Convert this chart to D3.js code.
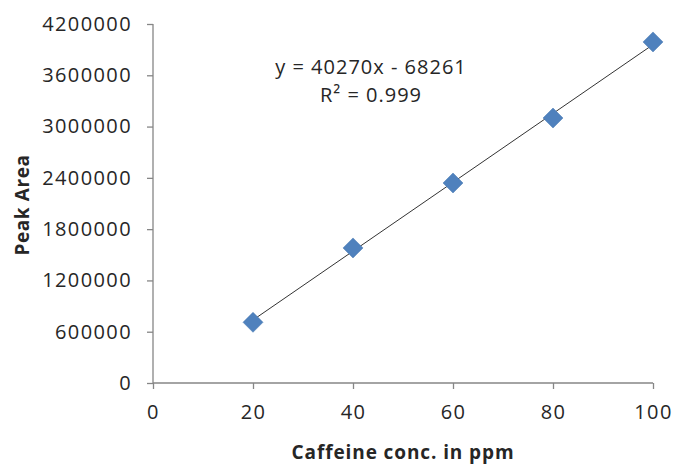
<!DOCTYPE html>
<html>
<head>
<meta charset="utf-8">
<script src="https://cdn.jsdelivr.net/npm/d3@7"></script>
<style>
  body { margin: 0; background: #fff; }
  svg text { font-family: "Open Sans", "Noto Sans", sans-serif; fill: #262626; }
</style>
</head>
<body>
<div id="chart"></div>
<script>
var concentrations = [20, 40, 60, 80, 100];
var peakAreas = [710000, 1580000, 2340000, 3100000, 3990000];
var xTicks = [0, 20, 40, 60, 80, 100];
var yTicks = [0, 600000, 1200000, 1800000, 2400000, 3000000, 3600000, 4200000];
var slope = 40270, intercept = -68261;
var eqLines = ["y = 40270x - 68261", "R² = 0.999"];

var width = 673, height = 464;
var margin = {left: 153, right: 20, top: 24, bottom: 81};

var svg = d3.select('#chart').append('svg')
    .attr('width', width)
    .attr('height', height);

var x = d3.scaleLinear().domain([0, 100]).range([margin.left, width - margin.right]);
var y = d3.scaleLinear().domain([0, 4200000]).range([height - margin.bottom, margin.top]);

var axisColor = '#868686';

// x axis
var gx = svg.append('g')
    .attr('transform', 'translate(0,' + y(0) + ')')
    .call(d3.axisBottom(x).tickValues(xTicks).tickSize(6).tickPadding(16).tickFormat(d3.format('d')));
// y axis
var gy = svg.append('g')
    .attr('transform', 'translate(' + x(0) + ',0)')
    .call(d3.axisLeft(y).tickValues(yTicks).tickSize(6).tickPadding(15).tickFormat(d3.format('d')));

[gx, gy].forEach(function(g) {
    g.selectAll('path, line').attr('stroke', axisColor).attr('stroke-width', 1.3);
    g.select('.domain').attr('d', g === gx
        ? 'M' + x(0) + ',0H' + x(100)
        : 'M0,' + y(0) + 'V' + y(4200000));
    g.selectAll('text').attr('font-size', 20).attr('fill', '#262626')
        .attr('letter-spacing', 1.4)
        .style('font-family', '"Open Sans", sans-serif');
});
gx.selectAll('text').attr('dy', '0.71em');

// trend line
var line = d3.line()
    .x(function(d) { return x(d); })
    .y(function(d) { return y(slope * d + intercept); });
svg.append('path')
    .datum([concentrations[0], concentrations[concentrations.length - 1]])
    .attr('d', line)
    .attr('fill', 'none')
    .attr('stroke', '#333')
    .attr('stroke-width', 1);

// markers
svg.selectAll('path.pt')
    .data(concentrations)
    .enter().append('path')
    .attr('class', 'pt')
    .attr('d', d3.symbol().type(d3.symbolSquare).size(200))
    .attr('transform', function(d, i) { return 'translate(' + x(d) + ',' + y(peakAreas[i]) + ') rotate(45)'; })
    .attr('fill', '#4f81bd')
    .attr('stroke', '#4a7ab3')
    .attr('stroke-width', 0.5);

// equation
svg.selectAll('text.eq')
    .data(eqLines)
    .enter().append('text')
    .attr('class', 'eq')
    .attr('x', 371)
    .attr('y', function(d, i) { return 74 + i * 28; })
    .attr('text-anchor', 'middle')
    .attr('font-size', 20)
    .attr('letter-spacing', 1)
    .text(function(d) { return d; });

// axis titles
svg.append('text')
    .attr('x', 403)
    .attr('y', 459)
    .attr('text-anchor', 'middle')
    .attr('font-size', 19)
    .attr('font-weight', 'bold')
    .attr('letter-spacing', 0.9)
    .text('Caffeine conc. in ppm');

svg.append('text')
    .attr('transform', 'translate(29,' + 205 + ') rotate(-90)')
    .attr('text-anchor', 'middle')
    .attr('font-size', 19)
    .attr('font-weight', 'bold')
    .attr('letter-spacing', 0.6)
    .text('Peak Area');
</script>
</body>
</html>
